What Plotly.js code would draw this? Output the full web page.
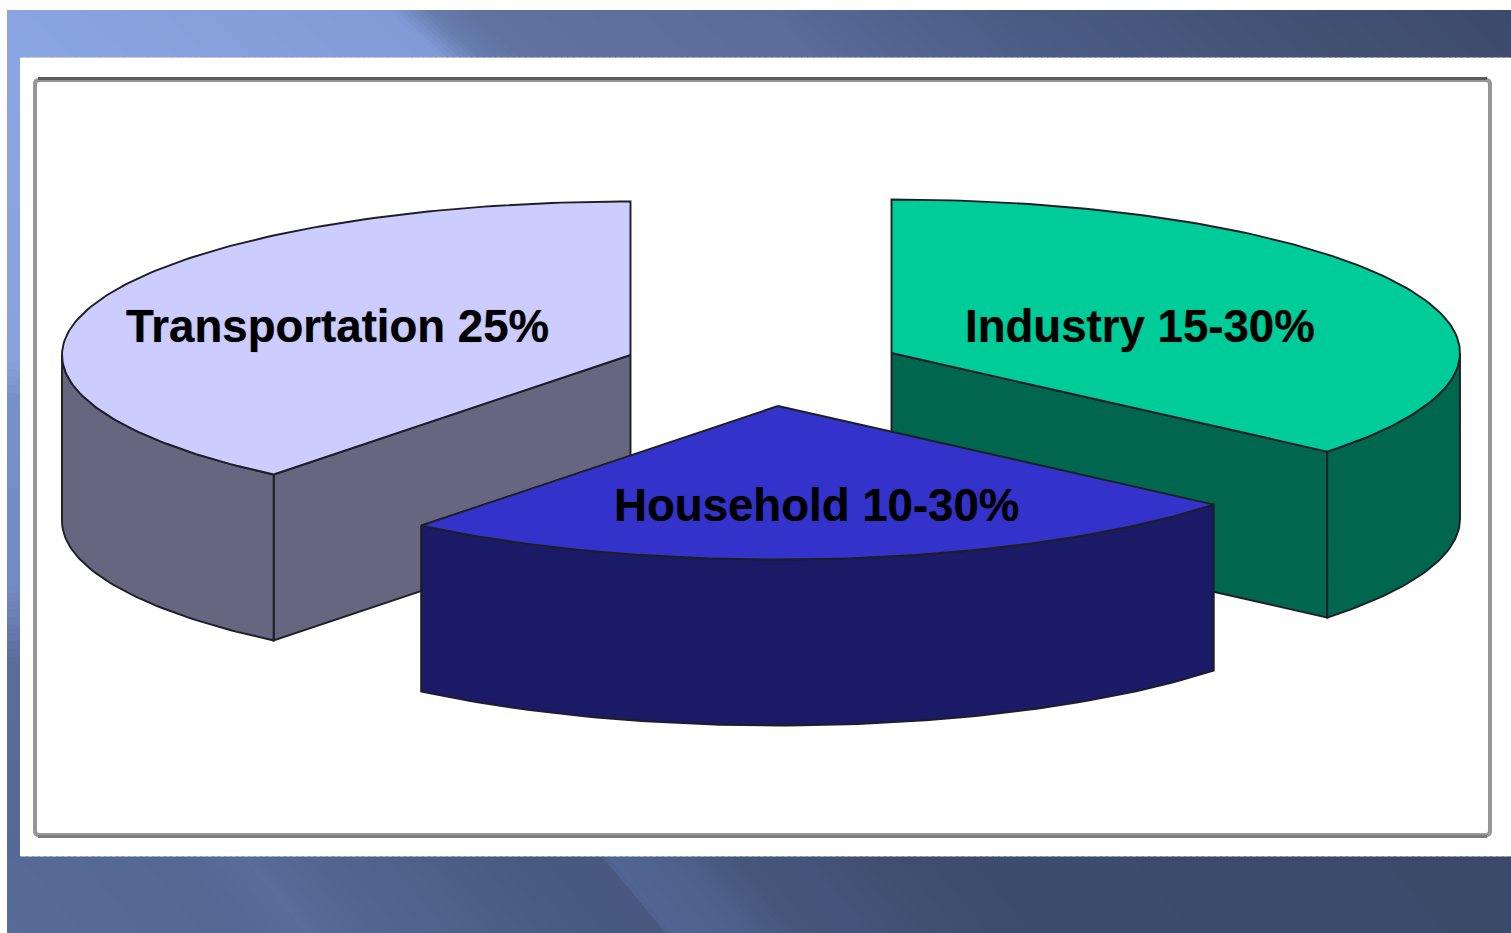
<!DOCTYPE html>
<html>
<head>
<meta charset="utf-8">
<script src="https://cdn.plot.ly/plotly-3.0.1.min.js"></script>
<style>html,body{margin:0;padding:0;background:#fff;overflow:hidden}</style>
</head>
<body>
<div id="chart" style="width:1511px;height:933px"></div>
<script>
// ---- chart data ----
const categories = ["Transportation", "Household", "Industry"];
const labels = ["Transportation 25%", "Household 10-30%", "Industry 15-30%"];
const shareOfCircle = [39.2, 24.7, 36.1];   // visual size of each wedge, percent of the circle
const topColors = ["#ccccff", "#3333cc", "#00cc99"];
const sideColors = ["#666680", "#1a1a66", "#00664d"];

// ---- pie projection ----
const rx = 568.5, ry = 153.5, depth = 166;
const apexX = [630.5, 778, 891.5], apexY = [355, 406, 353];
const labelX = [337, 816, 1140], labelY = [326, 505, 326];
const drawOrder = [0, 2, 1];
const outline = "#1e1e26";

const rad = d => d * Math.PI / 180;
let cursor = 90;
const starts = [], stops = [];
shareOfCircle.forEach(s => { starts.push(cursor); cursor += s * 3.6; stops.push(cursor); });

function arcPoints(i, a, b, dy) {
  const xs = [], ys = [];
  const n = Math.max(2, Math.ceil(Math.abs(b - a)));
  for (let k = 0; k <= n; k++) {
    const t = rad(a + (b - a) * k / n);
    xs.push(apexX[i] + rx * Math.cos(t));
    ys.push(apexY[i] - ry * Math.sin(t) + dy);
  }
  return [xs, ys];
}
function poly(xs, ys, fill, name) {
  return {type: "scatter", mode: "lines", x: xs, y: ys, fill: "toself", fillcolor: fill,
    line: {color: outline, width: 1.9, shape: "linear"}, hoverinfo: "text", text: name, showlegend: false};
}
const traces = [];
drawOrder.forEach(i => {
  const name = labels[i];
  // radial walls that face the viewer
  [starts[i], stops[i]].forEach((ang, j) => {
    const c = Math.cos(rad(ang));
    if ((j === 0 && c > 1e-6) || (j === 1 && c < -1e-6)) {
      const ex = apexX[i] + rx * c, ey = apexY[i] - ry * Math.sin(rad(ang));
      traces.push(poly([apexX[i], ex, ex, apexX[i], apexX[i]],
                       [apexY[i], ey, ey + depth, apexY[i] + depth, apexY[i]], sideColors[i], name));
    }
  });
  // outer rim: the part of the arc on the front half of the ellipse
  const a = Math.max(starts[i], 180), b = Math.min(stops[i], 360);
  if (b > a) {
    const [tx, ty] = arcPoints(i, a, b, 0);
    const [bx, by] = arcPoints(i, b, a, depth);
    traces.push(poly(tx.concat(bx, [tx[0]]), ty.concat(by, [ty[0]]), sideColors[i], name));
  }
  // top face
  const [fx, fy] = arcPoints(i, starts[i], stops[i], 0);
  traces.push(poly([apexX[i]].concat(fx, [apexX[i]]), [apexY[i]].concat(fy, [apexY[i]]), topColors[i], name));
});

// ---- slide background ----
const topStops = [[-60,[138,166,226]],[388,[130,155,215]],[430,[102,124,174]],[470,[96,115,160]],[760,[90,108,154]],
  [830,[85,102,148]],[1000,[75,92,132]],[1300,[65,80,115]],[1511,[62,74,108]]];
const bottomStops = [[-70,[88,108,152]],[170,[85,104,148]],[246,[89,108,154]],[300,[84,102,145]],[400,[80,97,138]],
  [520,[72,90,128]],[600,[72,88,126]],[606,[82,100,146]],[680,[78,96,138]],[738,[70,86,122]],[800,[68,84,122]],
  [880,[64,78,112]],[1000,[60,76,108]],[1511,[60,74,106]]];
const leftStops = [[57,[138,166,226]],[360,[135,162,220]],[400,[118,145,200]],[585,[115,140,195]],[660,[90,110,155]],[856,[85,105,150]]];

function mix(stops, p) {
  if (p <= stops[0][0]) return stops[0][1];
  for (let i = 1; i < stops.length; i++) {
    if (p <= stops[i][0]) {
      const f = (p - stops[i-1][0]) / (stops[i][0] - stops[i-1][0]);
      return stops[i-1][1].map((v, k) => v + (stops[i][1][k] - v) * f);
    }
  }
  return stops[stops.length-1][1];
}
const css = c => `rgb(${c.map(Math.round).join(",")})`;
const shapes = [];
function skewBands(stops, y0, y1, skew, from, to, step) {
  for (let p = from; p < to; p += step) {
    const q = p + step + 1.5, d = (y1 - y0) * skew;
    shapes.push({type: "path", layer: "below", line: {width: 0}, fillcolor: css(mix(stops, p + step / 2)),
      path: `M${p} ${y0}L${q} ${y0}L${q + d} ${y1}L${p + d} ${y1}Z`});
  }
}
skewBands(topStops, 10, 57.5, 1.08, -60, 1511, 6);
skewBands(bottomStops, 856.5, 933, 0.83, -70, 1511, 6);
for (let y = 57; y < 857; y += 8) {
  shapes.push({type: "rect", layer: "below", line: {width: 0}, fillcolor: css(mix(leftStops, y + 4)),
    x0: 7, x1: 20, y0: y, y1: Math.min(857, y + 9)});
}
// white margin left of the slide
shapes.push({type: "rect", layer: "below", line: {width: 0}, fillcolor: "#ffffff", x0: 0, x1: 7, y0: 0, y1: 933});
// framed panel with small rounded corners
shapes.push({type: "path", layer: "below", fillcolor: "#ffffff", line: {color: "#969696", width: 4},
  path: "M39 80L1486 80Q1490 80 1490 84L1490 831Q1490 835 1486 835L39 835Q35 835 35 831L35 84Q35 80 39 80Z"});
shapes.push({type: "line", layer: "below", x0: 38, x1: 1487, y0: 78.5, y1: 78.5, line: {color: "#5c5c5c", width: 3}});
shapes.push({type: "line", layer: "below", x0: 38, x1: 1487, y0: 836.5, y1: 836.5, line: {color: "#7c7c7c", width: 3}});

const annotations = labels.map((t, i) => ({
  text: t, x: labelX[i], y: labelY[i], xref: "x", yref: "y", showarrow: false,
  xanchor: "center", yanchor: "middle",
  font: {family: "'Liberation Sans', Arial, sans-serif", size: 45.6, color: "#000000", weight: 700,
         shadow: "0 0 1px rgba(0,0,0,0.5)"}
}));

Plotly.newPlot("chart", traces, {
  width: 1511, height: 933, margin: {l: 0, r: 0, t: 0, b: 0, pad: 0},
  paper_bgcolor: "#ffffff", plot_bgcolor: "rgba(0,0,0,0)", showlegend: false,
  xaxis: {range: [0, 1511], visible: false, fixedrange: true},
  yaxis: {range: [933, 0], visible: false, fixedrange: true},
  shapes, annotations
}, {displayModeBar: false, responsive: false});
</script>
</body>
</html>
